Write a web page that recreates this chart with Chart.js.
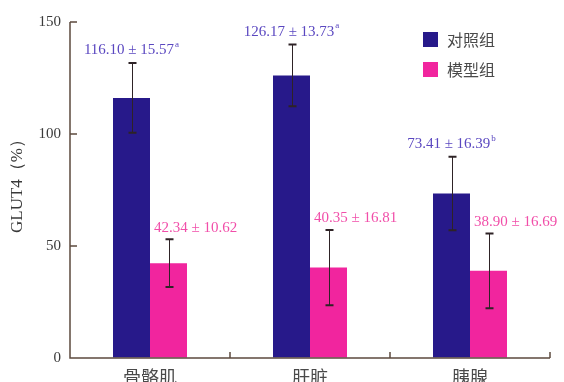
<!DOCTYPE html>
<html>
<head>
<meta charset="utf-8">
<script src="https://cdn.jsdelivr.net/npm/chart.js@4"></script>
<style>
  html, body { margin: 0; padding: 0; background: #ffffff; }
  #c { display: block; }
</style>
</head>
<body>
<canvas id="c" width="564" height="382"></canvas>
<script>
// GLUT4 expression by tissue, control vs model group (mean ± SD)
const tissues = ['骨骼肌', '肝脏', '胰腺'];
const seriesNames = ['对照组', '模型组'];
const controlMean = [116.10, 126.17, 73.41];
const controlSD = [15.57, 13.73, 16.39];
const controlMark = ['a', 'a', 'b'];
const modelMean = [42.34, 40.35, 38.90];
const modelSD = [10.62, 16.81, 16.69];
const modelMark = ['', '', ''];
const yTicks = [0, 50, 100, 150];
const yTitle = 'GLUT4（%）';

const NAVY = '#27198a';
const PINK = '#f1259e';
const NAVY_TEXT = '#5a47c0';
const PINK_TEXT = '#f14ea9';
const AXIS = '#5c4a3e';
const SERIF = '"Liberation Serif", "Times New Roman", serif';
const CJK = '"Noto Sans CJK SC", sans-serif';

const sds = [controlSD, modelSD];
const marks = [controlMark, modelMark];
const textColors = [NAVY_TEXT, PINK_TEXT];
const labelGap = [12.5, 11.5];

const decorations = {
  id: 'decorations',
  afterDatasetsDraw(chart) {
    const ctx = chart.ctx;
    const y = chart.scales.y;
    const x = chart.scales.x;
    const area = chart.chartArea;

    // error bars and value labels
    chart.data.datasets.forEach((ds, di) => {
      const meta = chart.getDatasetMeta(di);
      meta.data.forEach((bar, i) => {
        const m = ds.data[i];
        const sd = sds[di][i];
        const top = y.getPixelForValue(m + sd);
        const bot = y.getPixelForValue(m - sd);
        const cx = Math.round(bar.x) + 0.5;
        ctx.save();
        ctx.strokeStyle = '#2e2326';
        ctx.lineWidth = 1;
        ctx.beginPath();
        ctx.moveTo(cx, top);
        ctx.lineTo(cx, bot);
        ctx.stroke();
        ctx.lineWidth = 2;
        ctx.beginPath();
        ctx.moveTo(cx - 4, top);
        ctx.lineTo(cx + 4, top);
        ctx.moveTo(cx - 4, bot);
        ctx.lineTo(cx + 4, bot);
        ctx.stroke();

        // label "mean ± sd" with optional superscript letter
        const main = m.toFixed(2) + ' ± ' + sd.toFixed(2);
        const sup = marks[di][i];
        ctx.font = '15px ' + SERIF;
        const wMain = ctx.measureText(main).width;
        ctx.font = '9px ' + SERIF;
        const wSup = sup ? ctx.measureText(sup).width + 1 : 0;
        const total = wMain + wSup;
        const left = di === 0 ? bar.x - total / 2 : bar.x - bar.width / 2 + 4;
        const ty = top - labelGap[di];
        ctx.fillStyle = textColors[di];
        ctx.textAlign = 'left';
        ctx.textBaseline = 'middle';
        ctx.font = '15px ' + SERIF;
        ctx.fillText(main, left, ty);
        if (sup) {
          ctx.font = '9px ' + SERIF;
          ctx.fillText(sup, left + wMain + 1, ty - 6);
        }
        ctx.restore();
      });
    });

    // axes with inward ticks
    ctx.save();
    ctx.strokeStyle = AXIS;
    ctx.lineWidth = 1.5;
    const ax = area.left;
    const ay = area.bottom;
    ctx.beginPath();
    ctx.moveTo(ax, y.getPixelForValue(yTicks[yTicks.length - 1]));
    ctx.lineTo(ax, ay);
    ctx.lineTo(area.right, ay);
    yTicks.forEach(v => {
      if (v === 0) return;
      const py = y.getPixelForValue(v);
      ctx.moveTo(ax, py);
      ctx.lineTo(ax + 7, py);
    });
    for (let i = 0; i < tissues.length; i++) {
      const bx = i < tissues.length - 1
        ? (x.getPixelForValue(i) + x.getPixelForValue(i + 1)) / 2
        : area.right;
      ctx.moveTo(bx, ay);
      ctx.lineTo(bx, ay - 6);
    }
    ctx.stroke();
    ctx.restore();

    // y-axis title
    ctx.save();
    ctx.translate(18, 182);
    ctx.rotate(-Math.PI / 2);
    ctx.fillStyle = '#3a3a3a';
    ctx.font = '17px ' + SERIF;
    ctx.textAlign = 'center';
    ctx.textBaseline = 'middle';
    ctx.fillText(yTitle, 0, 0);
    ctx.restore();

    // legend
    ctx.save();
    chart.data.datasets.forEach((ds, di) => {
      const ly = 32 + di * 30;
      ctx.fillStyle = ds.backgroundColor;
      ctx.fillRect(423, ly, 15, 15);
      ctx.fillStyle = '#4a4a4a';
      ctx.font = '16px ' + CJK;
      ctx.textAlign = 'left';
      ctx.textBaseline = 'middle';
      ctx.fillText(ds.label, 447, ly + 8);
    });
    ctx.restore();
  }
};

new Chart(document.getElementById('c'), {
  type: 'bar',
  data: {
    labels: tissues,
    datasets: [
      { label: seriesNames[0], data: controlMean, backgroundColor: NAVY,
        categoryPercentage: 0.4625, barPercentage: 1 },
      { label: seriesNames[1], data: modelMean, backgroundColor: PINK,
        categoryPercentage: 0.4625, barPercentage: 1 }
    ]
  },
  options: {
    responsive: false,
    animation: false,
    layout: { padding: { top: 22, right: 14, left: 0, bottom: 0 } },
    plugins: {
      legend: { display: false },
      tooltip: { enabled: false }
    },
    scales: {
      x: {
        grid: { display: false, drawTicks: false },
        border: { display: false },
        ticks: { color: '#4a4a4a', font: { family: CJK, size: 18 }, padding: 8 },
        afterFit(s) { s.height = 24; }
      },
      y: {
        min: 0,
        max: 150,
        afterBuildTicks(s) { s.ticks = yTicks.map(v => ({ value: v })); },
        grid: { display: true, drawOnChartArea: false, drawTicks: false },
        border: { display: false },
        ticks: { color: '#3a3a3a', font: { family: SERIF, size: 15 }, padding: 9 },
        afterFit(s) { s.width = 70; }
      }
    }
  },
  plugins: [decorations]
});
</script>
</body>
</html>
